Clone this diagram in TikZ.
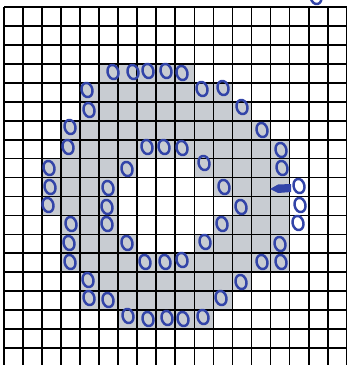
\documentclass[tikz,border=0pt]{standalone}
\usepackage{xcolor}
\usetikzlibrary{math}
\definecolor{ink}{RGB}{50,68,168}
\definecolor{cellgray}{RGB}{200,204,210}

\begin{document}
\begin{tikzpicture}[x=0.3mm,y=-0.3mm]
\tikzmath{
\W=19.04;
\H=18.95;
\X=4;
\Y=7;
}
\useasboundingbox (0,0) rectangle (347,365);
\clip (0,0) rectangle (347,365);

% shaded cells: row/first/last
\foreach \r/\a/\b in {3/5/9, 4/4/11, 5/4/12, 6/3/13, 7/3/14, 8/2/6, 8/10/14, 9/2/5, 9/11/14, 10/2/5, 10/12/14, 11/3/5, 11/11/14, 12/3/6, 12/10/14, 13/3/14, 14/4/12, 15/4/11, 16/6/10}
  \fill[cellgray] ({\X+\a*\W},{\Y+\r*\H}) rectangle ({\X+(\b+1)*\W},{\Y+(\r+1)*\H});

% grid
\foreach \c in {0,...,18}
  \draw[line width=1.5] ({\X+\c*\W},{\Y}) -- ({\X+\c*\W},365);
\foreach \r in {0,...,18}
  \draw[line width=1.5] ({\X},{\Y+\r*\H}) -- ({\X+18*\W},{\Y+\r*\H});

% marks
\foreach \px/\py in {316/-3,
  113/72, 133/72, 148/71, 166/71, 182/73,
  87/90, 202/89, 223/88,
  89/110, 242/107,
  70/127, 262/130,
  68/147, 147/147, 164/147, 182/148, 281/150,
  49/168, 127/169, 204/163, 282/168,
  50/187, 108/188, 224/187, 299/186,
  48/205, 107/207, 241/207, 300/205,
  71/224, 107/224, 222/224, 298/223,
  69/243, 127/243, 205/242, 280/244,
  70/262, 145/262, 165/262, 182/260, 262/262, 281/262,
  88/280, 241/282,
  89/298, 108/300, 221/298,
  128/316, 148/319, 167/318, 183/319, 203/317}
  \draw[ink, line width=2.1, rotate around={14:(\px,\py)}] (\px,\py) ellipse [x radius=5.4, y radius=7.2];

\fill[ink] (291,184) -- (278,184.5) -- (270,189) -- (278,193) -- (291,192) -- cycle;

\end{tikzpicture}
\end{document}
